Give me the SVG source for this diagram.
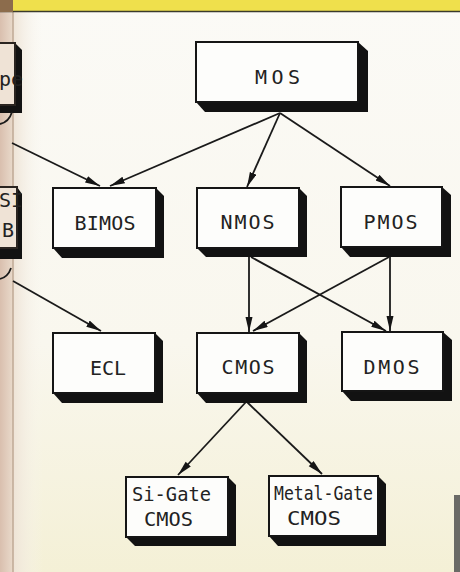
<svg xmlns="http://www.w3.org/2000/svg" width="460" height="572" viewBox="0 0 460 572">
<defs>
<linearGradient id="page" x1="0" y1="0" x2="0" y2="1">
<stop offset="0" stop-color="#fbfaf6"/>
<stop offset="0.6" stop-color="#f9f7ee"/>
<stop offset="1" stop-color="#f4f0d6"/>
</linearGradient>
<linearGradient id="gutter" x1="0" y1="0" x2="1" y2="0">
<stop offset="0" stop-color="#d9bfae"/>
<stop offset="1" stop-color="#e9dacb"/>
</linearGradient>
<linearGradient id="fade" x1="0" y1="0" x2="1" y2="0">
<stop offset="0" stop-color="#eee3d6"/>
<stop offset="1" stop-color="#f9f7f0" stop-opacity="0"/>
</linearGradient>
<marker id="ah" markerUnits="userSpaceOnUse" markerWidth="16" markerHeight="8" refX="15" refY="3.5" orient="auto">
<path d="M0,0 L15,3.5 L0,7 Z" fill="#151515"/>
</marker>
<style>
.face{fill:#fdfdfb;stroke:#151515;stroke-width:2}
.lface{fill:#efe3d6;stroke:#2a2420;stroke-width:2}
.sh{fill:#121212}
.lbl{font-family:"DejaVu Sans Mono","Liberation Mono",monospace;font-size:20px;fill:#222}
.sm{font-family:"DejaVu Sans Mono","Liberation Mono",monospace;font-size:19px;fill:#222}
.cn{fill:none;stroke:#1a1a1a;stroke-width:1.8}
</style>
</defs>

<!-- page background -->
<rect x="0" y="0" width="460" height="572" fill="url(#page)"/>
<rect x="13" y="12" width="30" height="560" fill="url(#fade)"/>
<rect x="0" y="12" width="13" height="560" fill="url(#gutter)"/>
<line x1="13" y1="12" x2="13" y2="572" stroke="#bfa894" stroke-width="1.5"/>
<rect x="0" y="0" width="460" height="11" fill="#efe04c"/>
<line x1="0" y1="11.5" x2="460" y2="11.5" stroke="#3a3a2c" stroke-width="1.5"/>
<rect x="0" y="0" width="13" height="12" fill="#8c6c4c"/>
<rect x="454" y="495" width="6" height="77" fill="#6a6a66"/>

<!-- partial left boxes -->
<g id="left1">
<polygon class="sh" points="15,43 22,50 22,113 -10,113 -17,105"/>
<rect class="lface" x="-20" y="43" width="35" height="62"/>
<text class="lbl" x="-1" y="86" font-size="18">pe</text>
</g>
<g id="left2">
<polygon class="sh" points="17,187 22,194 22,259 -10,259 -17,248"/>
<rect class="lface" x="-20" y="187" width="37" height="61"/>
<text class="lbl" x="-1" y="207" font-size="18">SI</text>
<text class="lbl" x="2" y="237" font-size="18">B</text>
</g>

<!-- connectors -->
<g id="connectors">
<path class="cn" d="M0,124 Q9,122 12,112"/>
<path class="cn" d="M0,279 Q8,277 11,268"/>
<line class="cn" x1="12" y1="143" x2="100" y2="186" marker-end="url(#ah)"/>
<line class="cn" x1="13" y1="281" x2="101" y2="331" marker-end="url(#ah)"/>
<line class="cn" x1="280" y1="113" x2="110" y2="186" marker-end="url(#ah)"/>
<line class="cn" x1="280" y1="113" x2="247" y2="187" marker-end="url(#ah)"/>
<line class="cn" x1="280" y1="113" x2="390" y2="186" marker-end="url(#ah)"/>
<line class="cn" x1="249" y1="257" x2="249" y2="332" marker-end="url(#ah)"/>
<line class="cn" x1="251" y1="257" x2="386" y2="331" marker-end="url(#ah)"/>
<line class="cn" x1="390" y1="257" x2="390" y2="331" marker-end="url(#ah)"/>
<line class="cn" x1="389" y1="257" x2="253" y2="331" marker-end="url(#ah)"/>
<line class="cn" x1="246" y1="402" x2="178" y2="475" marker-end="url(#ah)"/>
<line class="cn" x1="247" y1="402" x2="322" y2="474" marker-end="url(#ah)"/>
</g>

<g id="MOS">
<polygon class="sh" points="358,42 368,51 368,112 205,112 196,102"/>
<rect class="face" x="196" y="42" width="162" height="60"/>
<text class="lbl" x="255" y="83.5" font-size="19" textLength="45" lengthAdjust="spacing">MOS</text>
</g>
<g id="BIMOS">
<polygon class="sh" points="156,188 164,196 164,258 62,258 53,248"/>
<rect class="face" x="53" y="188" width="103" height="60"/>
<text class="lbl" x="74.5" y="230" textLength="61" lengthAdjust="spacing">BIMOS</text>
</g>
<g id="NMOS">
<polygon class="sh" points="299,188 307,196 307,257 206,257 197,248"/>
<rect class="face" x="197" y="188" width="102" height="60"/>
<text class="lbl" x="220.5" y="229" textLength="54" lengthAdjust="spacing">NMOS</text>
</g>
<g id="PMOS">
<polygon class="sh" points="442,187 451,195 451,257 350,257 341,247"/>
<rect class="face" x="341" y="187" width="101" height="60"/>
<text class="lbl" x="363.5" y="228.5" textLength="54" lengthAdjust="spacing">PMOS</text>
</g>
<g id="ECL">
<polygon class="sh" points="155,333 163,341 163,403 62,403 53,393"/>
<rect class="face" x="53" y="333" width="102" height="60"/>
<text class="lbl" x="90" y="375" textLength="36" lengthAdjust="spacing">ECL</text>
</g>
<g id="CMOS">
<polygon class="sh" points="299,333 307,341 307,403 206,403 197,393"/>
<rect class="face" x="197" y="333" width="102" height="60"/>
<text class="lbl" x="221.5" y="374" textLength="53" lengthAdjust="spacing">CMOS</text>
</g>
<g id="DMOS">
<polygon class="sh" points="443,332 452,340 452,401 351,401 342,391"/>
<rect class="face" x="342" y="332" width="101" height="59"/>
<text class="lbl" x="363.5" y="373.5" textLength="56" lengthAdjust="spacing">DMOS</text>
</g>
<g id="SiGate">
<polygon class="sh" points="228,477 236,485 236,546 135,546 126,537"/>
<rect class="face" x="126" y="477" width="102" height="60"/>
<text class="sm" x="132" y="501" textLength="79" lengthAdjust="spacingAndGlyphs">Si-Gate</text>
<text class="sm" x="144" y="525.5" textLength="49" lengthAdjust="spacingAndGlyphs">CMOS</text>
</g>
<g id="MetalGate">
<polygon class="sh" points="378,476 386,484 386,546 278,546 269,536"/>
<rect class="face" x="269" y="476" width="109" height="60"/>
<text class="sm" x="274" y="500" textLength="99" lengthAdjust="spacingAndGlyphs">Metal-Gate</text>
<text class="sm" x="287" y="525" textLength="54" lengthAdjust="spacingAndGlyphs">CMOS</text>
</g>
</svg>
